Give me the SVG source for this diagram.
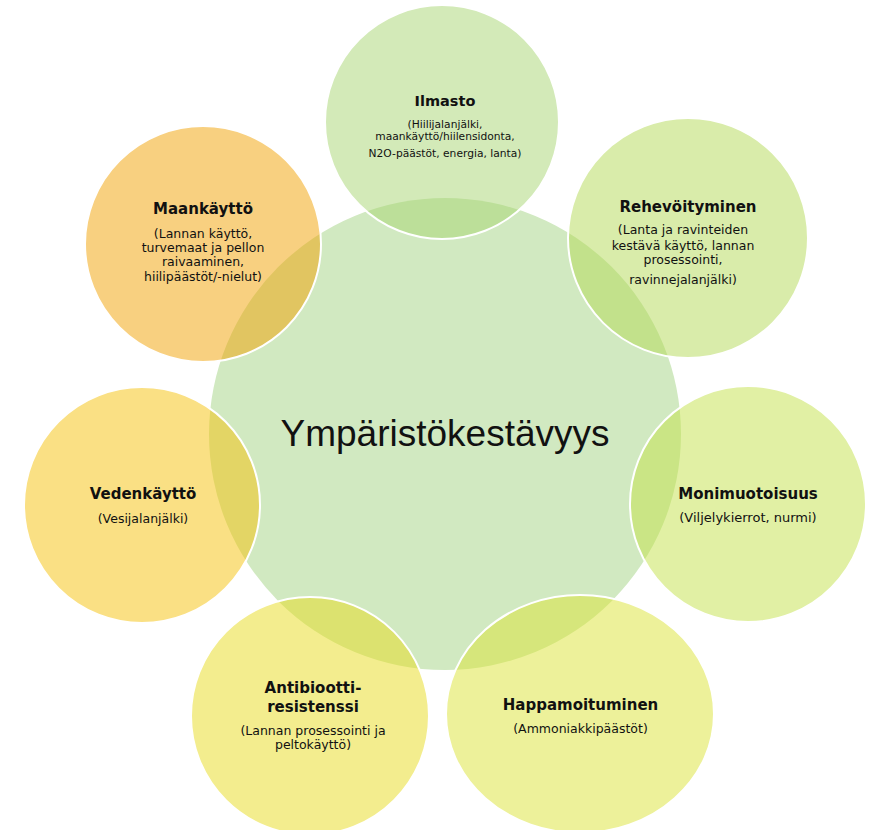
<svg xmlns="http://www.w3.org/2000/svg" width="872" height="830" viewBox="0 0 872 830">
<style>
.bub{stroke:#ffffff;stroke-width:2;fill-opacity:0.5}
.t{font-family:"DejaVu Sans","Liberation Sans",sans-serif;font-weight:bold;font-size:15px;fill:#111;text-anchor:middle}
.s{font-family:"DejaVu Sans","Liberation Sans",sans-serif;font-size:12.5px;fill:#111;text-anchor:middle}
.c{font-family:"Liberation Sans","DejaVu Sans",sans-serif;font-size:37px;fill:#111;text-anchor:middle}
</style>
<rect width="872" height="830" fill="#ffffff"/>
<g id="center">
<circle cx="445" cy="434" r="236" fill="#d1e9c1"/>
<text class="c" x="445" y="446">Ympäristökestävyys</text>
</g>
<g id="connectors"></g>
<g id="ilmasto">
<circle class="bub" cx="442" cy="122" r="117" fill="#a7d571"/>
<text class="t" x="445" y="106" style="font-size:14.5px">Ilmasto</text>
<text class="s" x="445" y="128" style="font-size:10.7px">(Hiilijalanjälki,</text>
<text class="s" x="445" y="139.5" style="font-size:10.7px">maankäyttö/hiilensidonta,</text>
<text class="s" x="445" y="157" style="font-size:10.7px">N2O-päästöt, energia, lanta)</text>
</g>
<g id="rehevoityminen">
<circle class="bub" cx="688" cy="238" r="120" fill="#b3d955"/>
<text class="t" x="688" y="211.5">Rehevöityminen</text>
<text class="s" x="683" y="234">(Lanta ja ravinteiden</text>
<text class="s" x="683" y="249.5">kestävä käyttö, lannan</text>
<text class="s" x="683" y="263.5">prosessointi,</text>
<text class="s" x="683" y="284">ravinnejalanjälki)</text>
</g>
<g id="monimuotoisuus">
<circle class="bub" cx="748" cy="504" r="118" fill="#c3e149"/>
<text class="t" x="748" y="499">Monimuotoisuus</text>
<text class="s" x="748" y="522" style="font-size:13px">(Viljelykierrot, nurmi)</text>
</g>
<g id="happamoituminen">
<ellipse class="bub" cx="580" cy="714" rx="134" ry="119" fill="#dbe335"/>
<text class="t" x="580.5" y="710">Happamoituminen</text>
<text class="s" x="580.5" y="733">(Ammoniakkipäästöt)</text>
</g>
<g id="antibiootti">
<circle class="bub" cx="310" cy="716" r="119" fill="#e7db1d"/>
<text class="t" x="313" y="692.5">Antibiootti-</text>
<text class="t" x="313" y="712">resistenssi</text>
<text class="s" x="313" y="735">(Lannan prosessointi ja</text>
<text class="s" x="313" y="748.5">peltokäyttö)</text>
</g>
<g id="vedenkaytto">
<circle class="bub" cx="142" cy="505" r="118" fill="#f5c109"/>
<text class="t" x="143" y="499">Vedenkäyttö</text>
<text class="s" x="143" y="523">(Vesijalanjälki)</text>
</g>
<g id="maankaytto">
<circle class="bub" cx="203" cy="244" r="118" fill="#f1a101"/>
<text class="t" x="203" y="213.5">Maankäyttö</text>
<text class="s" x="203" y="237.5">(Lannan käyttö,</text>
<text class="s" x="203" y="252">turvemaat ja pellon</text>
<text class="s" x="203" y="266">raivaaminen,</text>
<text class="s" x="203" y="280.5">hiilipäästöt/-nielut)</text>
</g>
</svg>
